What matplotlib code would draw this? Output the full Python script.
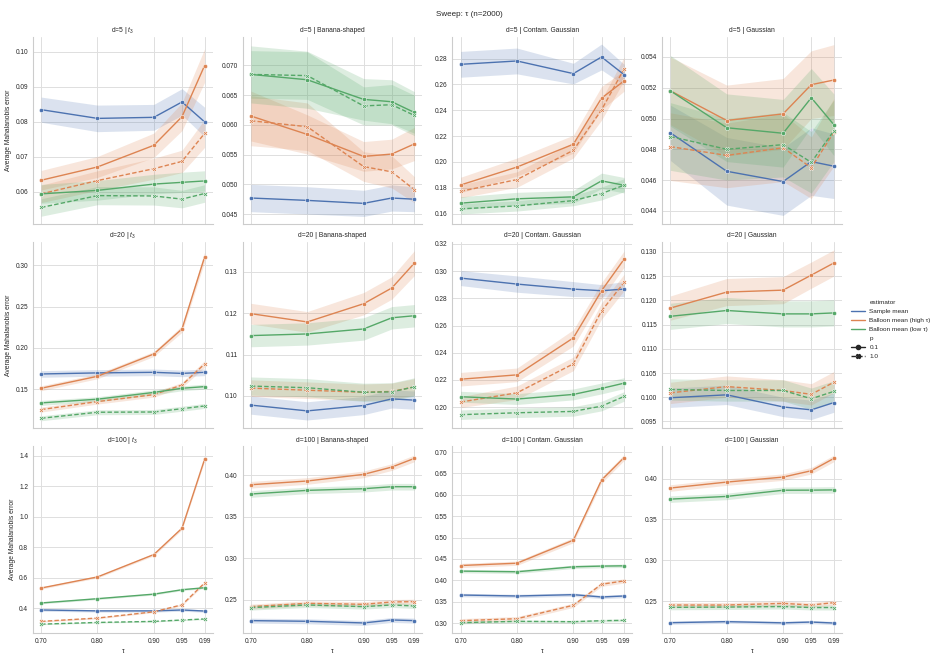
import matplotlib
matplotlib.use("Agg")
import matplotlib.pyplot as plt
from matplotlib.lines import Line2D
import numpy as np
import seaborn as sns

# ---------------- data ----------------
TAU = [0.70, 0.80, 0.90, 0.95, 0.99]
TAU_LABELS = ["0.70", "0.80", "0.90", "0.95", "0.99"]
DIMS = [5, 20, 100]
DISTS = ["$t_3$", "Banana-shaped", "Contam. Gaussian", "Gaussian"]
ESTIMATORS = ["Sample mean", "Balloon mean (high τ)", "Balloon mean (low τ)"]
P_VALUES = ["0.1", "1.0"]

# series keys: S = sample mean, H1/H2 = balloon high tau (p=0.1 / p=1.0), L1/L2 = balloon low tau
d5_t3 = dict(
    S=[0.0835, 0.0810, 0.0813, 0.0857, 0.0800],
    H1=[0.0633, 0.0671, 0.0733, 0.0815, 0.0961],
    H2=[0.0594, 0.0632, 0.0666, 0.0687, 0.0767],
    L1=[0.0594, 0.0604, 0.0622, 0.0627, 0.0631],
    L2=[0.0555, 0.0589, 0.0588, 0.0579, 0.0595])
d5_t3_ci = dict(
    S=[0.0036, 0.0038, 0.0037, 0.0038, 0.0042],
    H1=[0.0028, 0.0030, 0.0035, 0.0040, 0.0048],
    H2=[0.0025, 0.0028, 0.0030, 0.0032, 0.0040],
    L1=[0.0027, 0.0028, 0.0028, 0.0029, 0.0029],
    L2=[0.0025, 0.0026, 0.0026, 0.0025, 0.0025])

d5_banana = dict(
    S=[0.0477, 0.0473, 0.0468, 0.0477, 0.0475],
    H1=[0.0615, 0.0584, 0.0547, 0.0551, 0.0568],
    H2=[0.0607, 0.0597, 0.0530, 0.0521, 0.0491],
    L1=[0.0685, 0.0676, 0.0643, 0.0639, 0.0621],
    L2=[0.0685, 0.0683, 0.0632, 0.0634, 0.0616])
d5_banana_ci = dict(
    S=[0.0023, 0.0023, 0.0022, 0.0022, 0.0021],
    H1=[0.0042, 0.0033, 0.0025, 0.0025, 0.0028],
    H2=[0.0042, 0.0040, 0.0025, 0.0027, 0.0022],
    L1=[0.0048, 0.0048, 0.0035, 0.0037, 0.0035],
    L2=[0.0040, 0.0040, 0.0032, 0.0034, 0.0034])

d5_contam = dict(
    S=[0.2756, 0.2782, 0.2684, 0.2813, 0.2676],
    H1=[0.1821, 0.1960, 0.2137, 0.2494, 0.2628],
    H2=[0.1772, 0.1863, 0.2090, 0.2403, 0.2721],
    L1=[0.1680, 0.1714, 0.1729, 0.1853, 0.1819],
    L2=[0.1636, 0.1659, 0.1700, 0.1755, 0.1819])
d5_contam_ci = dict(
    S=[0.010, 0.010, 0.008, 0.010, 0.008],
    H1=[0.006, 0.007, 0.007, 0.009, 0.008],
    H2=[0.005, 0.006, 0.006, 0.008, 0.009],
    L1=[0.005, 0.005, 0.005, 0.006, 0.006],
    L2=[0.004, 0.004, 0.004, 0.005, 0.005])

d5_gauss = dict(
    S=[0.04907, 0.04657, 0.0459, 0.0472, 0.0469],
    H1=[0.0518, 0.04987, 0.0503, 0.0522, 0.0525],
    H2=[0.04817, 0.0476, 0.0481, 0.0468, 0.0491],
    L1=[0.0518, 0.0494, 0.04904, 0.05135, 0.0496],
    L2=[0.04883, 0.0480, 0.0483, 0.04715, 0.0492])
d5_gauss_ci = dict(
    S=[0.0018, 0.0022, 0.0022, 0.0022, 0.0021],
    H1=[0.0022, 0.0023, 0.0023, 0.0022, 0.0023],
    H2=[0.0022, 0.0021, 0.0022, 0.0020, 0.0022],
    L1=[0.0023, 0.0022, 0.0022, 0.0019, 0.0020],
    L2=[0.0022, 0.0020, 0.0021, 0.0020, 0.0020])

d20_t3 = dict(
    S=[0.1685, 0.1698, 0.1705, 0.1692, 0.1705],
    H1=[0.1512, 0.1657, 0.1927, 0.2230, 0.3100],
    H2=[0.1254, 0.1351, 0.1435, 0.1552, 0.1806],
    L1=[0.1335, 0.1380, 0.1462, 0.1512, 0.1532],
    L2=[0.1149, 0.1222, 0.1225, 0.1265, 0.1298])
d20_t3_ci = dict(
    S=[0.004, 0.004, 0.004, 0.004, 0.004],
    H1=[0.003, 0.003, 0.003, 0.004, 0.006],
    H2=[0.003, 0.003, 0.003, 0.003, 0.004],
    L1=[0.003, 0.003, 0.003, 0.003, 0.003],
    L2=[0.003, 0.003, 0.003, 0.003, 0.003])

d20_banana = dict(
    S=[0.0978, 0.0964, 0.0977, 0.0993, 0.0990],
    H1=[0.1199, 0.1179, 0.1223, 0.1261, 0.1321],
    H2=[0.1019, 0.1014, 0.1009, 0.1011, 0.1022],
    L1=[0.1146, 0.1150, 0.1162, 0.1189, 0.1194],
    L2=[0.1024, 0.1020, 0.1009, 0.1010, 0.1022])
d20_banana_ci = dict(
    S=[0.0022, 0.0022, 0.0022, 0.0022, 0.0022],
    H1=[0.0025, 0.0025, 0.0027, 0.0027, 0.0030],
    H2=[0.0020, 0.0020, 0.0020, 0.0020, 0.0020],
    L1=[0.0027, 0.0027, 0.0027, 0.0027, 0.0027],
    L2=[0.0022, 0.0022, 0.0022, 0.0022, 0.0022])

d20_contam = dict(
    S=[0.2949, 0.2905, 0.2868, 0.2856, 0.2868],
    H1=[0.2205, 0.2237, 0.2509, 0.2856, 0.3088],
    H2=[0.2037, 0.2105, 0.2318, 0.2707, 0.2917],
    L1=[0.2076, 0.2059, 0.2093, 0.2137, 0.2176],
    L2=[0.1944, 0.1958, 0.1968, 0.2007, 0.2078])
d20_contam_ci = dict(
    S=[0.0055, 0.0060, 0.0055, 0.0045, 0.0055],
    H1=[0.005, 0.005, 0.006, 0.006, 0.006],
    H2=[0.004, 0.005, 0.005, 0.006, 0.006],
    L1=[0.004, 0.004, 0.004, 0.004, 0.004],
    L2=[0.0035, 0.0035, 0.0035, 0.0035, 0.0035])

d20_gauss = dict(
    S=[0.0999, 0.1005, 0.0980, 0.0974, 0.0989],
    H1=[0.1184, 0.1217, 0.1221, 0.1252, 0.1277],
    H2=[0.1009, 0.1022, 0.1014, 0.1006, 0.1031],
    L1=[0.1167, 0.1179, 0.1172, 0.1172, 0.1174],
    L2=[0.1016, 0.1014, 0.1014, 0.0997, 0.1012])
d20_gauss_ci = dict(
    S=[0.0020, 0.0020, 0.0020, 0.0020, 0.0020],
    H1=[0.0025, 0.0028, 0.0028, 0.0027, 0.0027],
    H2=[0.0022, 0.0022, 0.0022, 0.0022, 0.0022],
    L1=[0.0027, 0.0027, 0.0027, 0.0027, 0.0027],
    L2=[0.0022, 0.0022, 0.0022, 0.0022, 0.0022])

d100_t3 = dict(
    S=[0.389, 0.383, 0.383, 0.389, 0.382],
    H1=[0.533, 0.606, 0.753, 0.926, 1.378],
    H2=[0.314, 0.336, 0.377, 0.423, 0.566],
    L1=[0.435, 0.463, 0.493, 0.522, 0.535],
    L2=[0.296, 0.307, 0.314, 0.323, 0.330])
d100_t3_ci = dict(
    S=[0.008, 0.008, 0.008, 0.008, 0.008],
    H1=[0.007, 0.007, 0.008, 0.010, 0.014],
    H2=[0.005, 0.005, 0.005, 0.006, 0.010],
    L1=[0.006, 0.006, 0.006, 0.006, 0.006],
    L2=[0.004, 0.004, 0.004, 0.004, 0.004])

d100_banana = dict(
    S=[0.2247, 0.2239, 0.2219, 0.2255, 0.2247],
    H1=[0.3887, 0.3932, 0.4012, 0.4100, 0.4205],
    H2=[0.2416, 0.2456, 0.2444, 0.2472, 0.2476],
    L1=[0.3775, 0.3819, 0.3839, 0.3863, 0.3863],
    L2=[0.2404, 0.2436, 0.2416, 0.2436, 0.2424])
d100_banana_ci = dict(
    S=[0.003, 0.003, 0.003, 0.003, 0.003],
    H1=[0.004, 0.004, 0.004, 0.004, 0.004],
    H2=[0.003, 0.003, 0.003, 0.003, 0.003],
    L1=[0.004, 0.004, 0.004, 0.004, 0.004],
    L2=[0.003, 0.003, 0.003, 0.003, 0.003])

d100_contam = dict(
    S=[0.3655, 0.3632, 0.3663, 0.3609, 0.3632],
    H1=[0.4345, 0.4399, 0.4938, 0.6344, 0.6870],
    H2=[0.3054, 0.3101, 0.3415, 0.3907, 0.3985],
    L1=[0.4214, 0.4199, 0.4315, 0.4331, 0.4338],
    L2=[0.3008, 0.3039, 0.3031, 0.3054, 0.3062])
d100_contam_ci = dict(
    S=[0.004, 0.004, 0.004, 0.004, 0.004],
    H1=[0.005, 0.005, 0.006, 0.007, 0.007],
    H2=[0.005, 0.005, 0.005, 0.005, 0.005],
    L1=[0.004, 0.004, 0.004, 0.004, 0.004],
    L2=[0.003, 0.003, 0.003, 0.003, 0.003])

d100_gauss = dict(
    S=[0.2234, 0.2247, 0.2232, 0.2242, 0.2230],
    H1=[0.3886, 0.3959, 0.4020, 0.4098, 0.4249],
    H2=[0.2451, 0.2451, 0.2471, 0.2451, 0.2480],
    L1=[0.3750, 0.3783, 0.3859, 0.3860, 0.3863],
    L2=[0.2422, 0.2426, 0.2432, 0.2420, 0.2420])
d100_gauss_ci = dict(
    S=[0.002, 0.002, 0.002, 0.002, 0.002],
    H1=[0.004, 0.004, 0.004, 0.004, 0.004],
    H2=[0.003, 0.003, 0.003, 0.003, 0.003],
    L1=[0.004, 0.004, 0.004, 0.004, 0.004],
    L2=[0.003, 0.003, 0.003, 0.003, 0.003])

PANELS = [
    [(d5_t3, d5_t3_ci), (d5_banana, d5_banana_ci), (d5_contam, d5_contam_ci), (d5_gauss, d5_gauss_ci)],
    [(d20_t3, d20_t3_ci), (d20_banana, d20_banana_ci), (d20_contam, d20_contam_ci), (d20_gauss, d20_gauss_ci)],
    [(d100_t3, d100_t3_ci), (d100_banana, d100_banana_ci), (d100_contam, d100_contam_ci), (d100_gauss, d100_gauss_ci)],
]
YLIMS = [
    [(0.0509, 0.1043), (0.0434, 0.0748), (0.1522, 0.2968), (0.04317, 0.0553)],
    [(0.1028, 0.3286), (0.0922, 0.1373), (0.1844, 0.3217), (0.0936, 0.1321)],
    [(0.238, 1.463), (0.2098, 0.435), (0.2767, 0.7132), (0.2108, 0.4397)],
]

# ---------------- style ----------------
sns.set_theme(style="whitegrid")
plt.rcParams['font.family'] = ['Liberation Sans', 'DejaVu Sans']
plt.rcParams['mathtext.fontset'] = 'custom'
plt.rcParams['mathtext.it'] = 'Liberation Sans:italic'
plt.rcParams['mathtext.rm'] = 'Liberation Sans'
plt.rcParams['axes.edgecolor'] = '.8'
plt.rcParams['grid.color'] = '.87'
TXT = '.15'
FS_TICK = 4.7
FS_LAB = 4.9
FS_SUP = 5.8
FS_LEG = 4.6

COLORS = {"S": "#4C72B0", "H": "#DD8452", "L": "#55A868"}
DASH = (0, (3.2, 1.6))
SERIES = [("S", "S", "-", "o"),
          ("H1", "H", "-", "o"), ("H2", "H", DASH, "X"),
          ("L1", "L", "-", "o"), ("L2", "L", DASH, "X")]

fig = plt.figure(figsize=(9.39, 6.59), dpi=100)
axes = fig.subplots(3, 4, sharex=True)
fig.subplots_adjust(left=0.0351, right=0.8967, bottom=0.0395, top=0.9439,
                    wspace=0.1667, hspace=0.097)

for r, d in enumerate(DIMS):
    for c, dist in enumerate(DISTS):
        ax = axes[r][c]
        means, cis = PANELS[r][c]
        for key, ckey, ls, mk in SERIES:
            m = np.array(means[key])
            e = np.array(cis[key])
            col = COLORS[ckey]
            ax.fill_between(TAU, m - e, m + e, color=col, alpha=0.2, linewidth=0)
            ax.plot(TAU, m, color=col, linestyle=ls, linewidth=1.0,
                    marker=mk, markersize=3.0, markeredgecolor='white',
                    markeredgewidth=0.35)
        ax.set_ylim(*YLIMS[r][c])
        ax.set_xticks(TAU)
        ax.set_xticklabels(TAU_LABELS)
        ax.tick_params(axis='both', labelsize=FS_TICK, colors=TXT, pad=3.5, length=0)
        ax.grid(True, linewidth=0.7)
        for s in ['top', 'right']:
            ax.spines[s].set_visible(False)
        for s in ['left', 'bottom']:
            ax.spines[s].set_linewidth(0.8)
        ax.set_title(f"d={d} | {dist}", fontsize=FS_LAB, color=TXT, pad=3.5)
        if c == 0:
            ax.set_ylabel("Average Mahalanobis error", fontsize=FS_LAB, color=TXT, labelpad=2.5)
        if r == 2:
            ax.set_xlabel("τ", fontsize=FS_LAB, color=TXT, labelpad=2.5)

fig.suptitle("Sweep: τ (n=2000)", fontsize=FS_SUP, color=TXT, y=0.984)

blank = Line2D([], [], linestyle='none', marker=None)
handles = [blank,
           Line2D([], [], color=COLORS["S"], lw=1.0),
           Line2D([], [], color=COLORS["H"], lw=1.0),
           Line2D([], [], color=COLORS["L"], lw=1.0),
           blank,
           Line2D([], [], color='.15', lw=1.0, ls='-', marker='o', markersize=3),
           Line2D([], [], color='.15', lw=1.0, ls=DASH, marker='X', markersize=3)]
labels = ["estimator"] + ESTIMATORS + ["p"] + P_VALUES
leg = fig.legend(handles, labels, loc='center left', bbox_to_anchor=(0.906, 0.500),
                 frameon=False, fontsize=FS_LEG, handlelength=2.3, handletextpad=0.6,
                 labelspacing=0.55, borderaxespad=0, borderpad=0)
for t in leg.get_texts():
    t.set_color(TXT)

fig.savefig("out.png", dpi=100)
